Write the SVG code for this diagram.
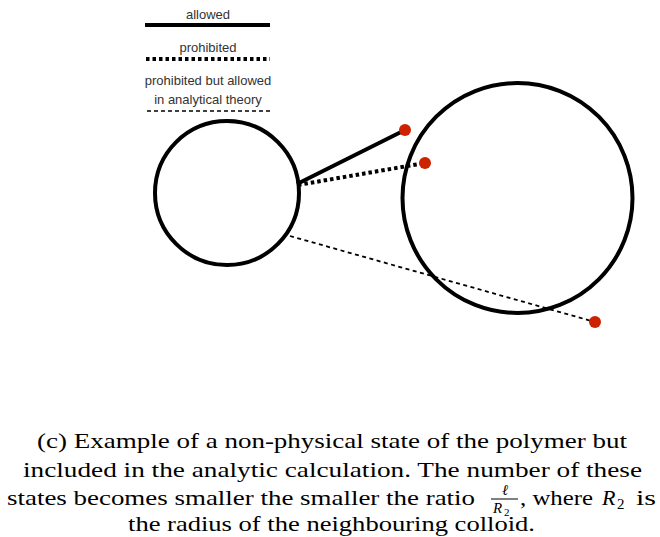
<svg xmlns="http://www.w3.org/2000/svg" width="660" height="537" viewBox="0 0 660 537">
<style>
.leg{font-family:"Liberation Sans",Arial,sans-serif;font-size:13px;fill:#333;text-anchor:middle}
.cap{font-family:"Liberation Serif","Times New Roman",serif;font-size:22px;fill:#000}
.col{fill:none;stroke:#000;stroke-width:4}
.dot{fill:#cc2200}
</style>
<rect width="660" height="537" fill="#fff"/>
<g id="legend">
<text class="leg" x="208" y="19">allowed</text>
<line x1="145" y1="25" x2="270" y2="25" stroke="#000" stroke-width="4"/>
<text class="leg" x="208" y="52">prohibited</text>
<line x1="146" y1="59" x2="270" y2="59" stroke="#000" stroke-width="4" stroke-dasharray="3.5,3"/>
<text class="leg" x="208" y="85">prohibited but allowed</text>
<text class="leg" x="208" y="104">in analytical theory</text>
<line x1="147" y1="111" x2="271" y2="111" stroke="#000" stroke-width="1.5" stroke-dasharray="4,3"/>
</g>
<g id="colloid1"><circle class="col" cx="227" cy="193" r="72"/></g>
<g id="colloid2"><circle class="col" cx="517.5" cy="198" r="115"/></g>
<g id="connectors">
<line x1="297" y1="184" x2="405" y2="130" stroke="#000" stroke-width="4"/>
<line x1="298" y1="185" x2="425" y2="163" stroke="#000" stroke-width="4" stroke-dasharray="3.5,3"/>
<line x1="290" y1="236" x2="595" y2="322" stroke="#000" stroke-width="1.8" stroke-dasharray="4,3.5"/>
</g>
<g id="monomers">
<circle class="dot" cx="405" cy="130" r="6"/>
<circle class="dot" cx="425" cy="163" r="6"/>
<circle class="dot" cx="595" cy="322" r="6"/>
</g>
<g id="caption">
<text class="cap" x="37" y="448" textLength="590" lengthAdjust="spacingAndGlyphs">(c) Example of a non-physical state of the polymer but</text>
<text class="cap" x="23" y="477" textLength="619" lengthAdjust="spacingAndGlyphs">included in the analytic calculation. The number of these</text>
<text class="cap" x="7" y="505" textLength="468" lengthAdjust="spacingAndGlyphs">states becomes smaller the smaller the ratio</text>
<text class="cap" x="505" y="495" style="font-size:15px;font-style:italic" text-anchor="middle">ℓ</text>
<line x1="491" y1="499" x2="518" y2="499" stroke="#000" stroke-width="1"/>
<text class="cap" x="493" y="513" style="font-size:15px;font-style:italic">R</text>
<text class="cap" x="504" y="516" style="font-size:11px">2</text>
<text class="cap" x="520" y="505" textLength="73" lengthAdjust="spacingAndGlyphs">, where</text>
<text class="cap" x="602" y="505" style="font-style:italic">R</text>
<text class="cap" x="617" y="509" style="font-size:15px">2</text>
<text class="cap" x="636" y="505" textLength="20" lengthAdjust="spacingAndGlyphs">is</text>
<text class="cap" x="128" y="531" textLength="407" lengthAdjust="spacingAndGlyphs">the radius of the neighbouring colloid.</text>
</g>
</svg>
